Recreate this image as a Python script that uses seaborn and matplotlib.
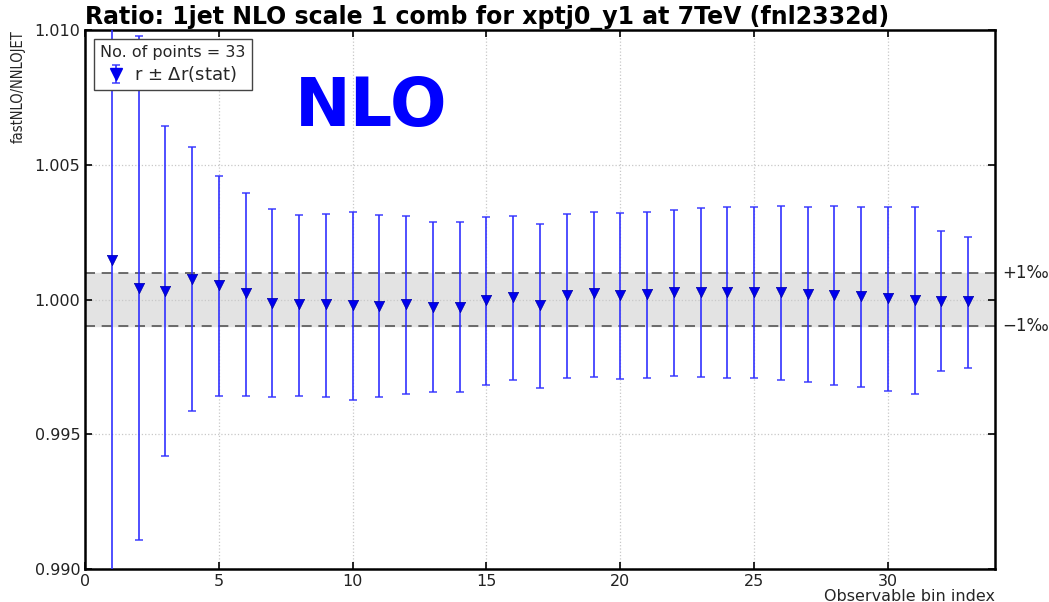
import numpy as np
import pandas as pd
import matplotlib
matplotlib.use("Agg")
import matplotlib.pyplot as plt
import seaborn as sns

# Ratio fastNLO/NNLOJET per observable bin, with lower/upper ends of the stat. error bars
bins = list(range(1, 34))
ratio = [1.001466, 1.000416, 1.000327, 1.000772, 1.000538, 1.000230, 0.999881, 0.999833,
         0.999822, 0.999785, 0.999770, 0.999822, 0.999733, 0.999733, 0.999970, 1.000104,
         0.999807, 1.000178, 1.000241, 1.000156, 1.000204, 1.000289, 1.000289, 1.000278,
         1.000289, 1.000267, 1.000215, 1.000167, 1.000130, 1.000045, 0.999981, 0.999944,
         0.999944]
upper = [1.0155, 1.00977, 1.006438, 1.005647, 1.004583, 1.003963, 1.003358, 1.003147,
         1.003184, 1.003235, 1.003147, 1.003087, 1.002887, 1.002864, 1.003061, 1.003098,
         1.002813, 1.003184, 1.003258, 1.003198, 1.003235, 1.003332, 1.003384, 1.003421,
         1.003421, 1.003458, 1.003443, 1.003458, 1.003421, 1.003421, 1.003443, 1.002531,
         1.002330]
lower = [0.9875, 0.991065, 0.994193, 0.995856, 0.996432, 0.996432, 0.996372, 0.996432,
         0.996372, 0.996283, 0.996372, 0.996501, 0.996575, 0.996575, 0.996845, 0.997019,
         0.996727, 0.997075, 0.997135, 0.997050, 0.997075, 0.997160, 0.997124, 0.997098,
         0.997075, 0.997019, 0.996945, 0.996833, 0.996745, 0.996623, 0.996475, 0.997347,
         0.997469]

df = pd.DataFrame({"bin": bins, "ratio": ratio, "upper": upper, "lower": lower})

sns.set_style("ticks")
plt.rcParams["font.family"] = ["DejaVu Sans"]
plt.rcParams["xtick.direction"] = "in"
plt.rcParams["ytick.direction"] = "in"

fig = plt.figure(figsize=(10.49, 6.02), dpi=100)
ax = fig.add_axes([85 / 1049, 1 - 569 / 602, 910 / 1049, 539 / 602])

# +-1 permille band
ax.axhspan(0.999, 1.001, color="#e3e3e3", zorder=0)
ax.axhline(1.001, color="#555555", ls="--", lw=1.2, dashes=(6, 4), zorder=1)
ax.axhline(0.999, color="#555555", ls="--", lw=1.2, dashes=(6, 4), zorder=1)

yerr = np.array([df["ratio"] - df["lower"], df["upper"] - df["ratio"]])
eb = ax.errorbar(df["bin"], df["ratio"], yerr=yerr, fmt="none", ecolor="#3030ff",
                 elinewidth=1.4, capsize=3, capthick=1.2, alpha=0.85, zorder=3)
sns.scatterplot(data=df, x="bin", y="ratio", marker="v", color="#0000ee", s=55,
                edgecolor="#0000aa", linewidth=0.5, legend=False, ax=ax, zorder=4)

ax.set_xlim(0, 34)
ax.set_ylim(0.990, 1.010)
ax.set_xticks([0, 5, 10, 15, 20, 25, 30])
ax.set_yticks([0.990, 0.995, 1.000, 1.005, 1.010])
ax.set_yticklabels(["0.990", "0.995", "1.000", "1.005", "1.010"])
ax.tick_params(axis="both", which="both", top=True, right=True, labelsize=11.5,
               length=5, width=1.2, colors="black", labelcolor="#222222")
ax.grid(True, ls=":", color="#c8c8c8", lw=0.9)
for sp in ax.spines.values():
    sp.set_linewidth(1.8)
    sp.set_color("black")

ax.set_title("Ratio: 1jet NLO scale 1 comb for xptj0_y1 at 7TeV (fnl2332d)",
             loc="left", fontsize=17, fontweight="bold", pad=3, color="black")
ax.set_xlabel("Observable bin index", loc="right", fontsize=11.5, labelpad=0)
ax.set_ylabel("fastNLO/NNLOJET", loc="top", fontsize=10.5, fontstretch="condensed", labelpad=6)

ax.text(1.008, 1.001, "+1‰", transform=ax.get_yaxis_transform(), fontsize=12,
        va="center", ha="left", color="#222222")
ax.text(1.008, 0.999, "−1‰", transform=ax.get_yaxis_transform(), fontsize=12,
        va="center", ha="left", color="#222222")

ax.text(0.315, 0.857, "NLO", transform=ax.transAxes, fontsize=48, fontweight="bold",
        color="#0000ff", ha="center", va="center")

marker_proxy = plt.Line2D([], [], marker="v", ls="none", color="#0000ee", markersize=8)
leg = ax.legend([(eb, marker_proxy)], [r"r $\pm$ $\Delta$r(stat)"], loc="upper left",
                title="No. of points = 33", fontsize=13, title_fontsize=11.5,
                fancybox=False, framealpha=1, edgecolor="#444444",
                borderaxespad=0.5, handlelength=0.8, handletextpad=0.6,
                borderpad=0.35, labelspacing=0.2)
leg.get_frame().set_linewidth(1.0)

fig.savefig("out.png", dpi=100)
